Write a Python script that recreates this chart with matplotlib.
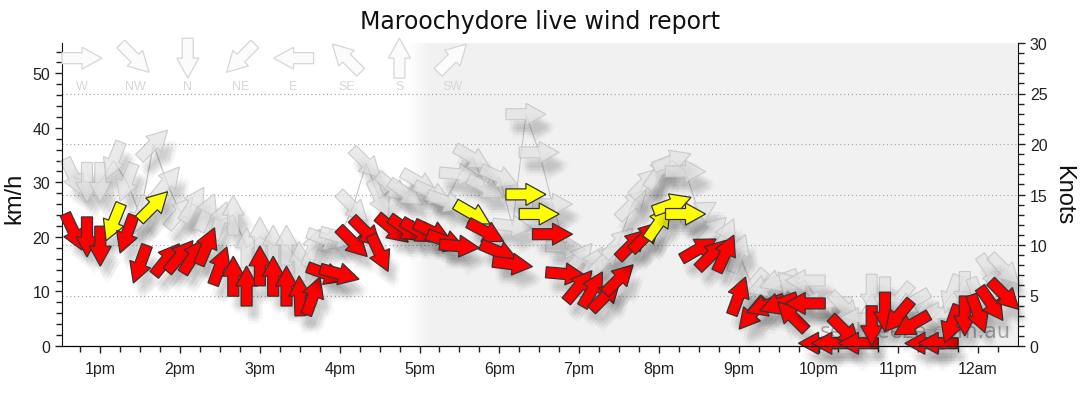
import matplotlib
matplotlib.use("Agg")
import matplotlib.pyplot as plt
import matplotlib.patheffects as pe
from matplotlib.patches import Polygon
from matplotlib.transforms import Affine2D, ScaledTranslation
import numpy as np

plt.rcParams['font.family'] = ['Liberation Sans', 'DejaVu Sans']

# one reading every 10 minutes, 12:40pm .. 12:20am (minutes after noon)
minutes = list(range(40, 750, 10))

# average wind, km/h
mean_kmh = [20.9, 20.0, 18.3, 22.7, 20.5, 15.0, 25.7, 15.9, 16.5, 16.5,
            18.3, 14.7, 12.8, 11.0, 14.7, 12.8, 11.0, 9.2, 9.2, 13.2,
            13.2, 19.0, 20.8, 17.0, 21.4, 21.4, 21.0, 20.9, 19.2, 18.3,
            24.2, 20.9, 17.2, 15.0, 27.8, 24.2, 20.5, 13.2, 11.0, 10.4,
            9.2, 12.3, 18.7, 20.1, 22.6, 26.0, 24.2, 17.8, 16.8, 17.0,
            9.2, 5.9, 7.4, 7.7, 5.5, 7.8, 0.5, 0.5, 2.7, 0.5,
            3.7, 6.2, 5.5, 3.9, 0.5, 0.5, 4.0, 5.5, 5.9, 7.7,
            9.3]
# wind direction (degrees, where it blows from)
wind_dir = [335, 0, 0, 22, 20, 20, 225, 219, 220, 212,
            203, 200, 180, 180, 180, 180, 180, 178, 200, 290,
            285, 315, 315, 335, 310, 305, 300, 295, 290, 275,
            300, 298, 293, 277, 270, 270, 270, 275, 220, 210,
            225, 225, 225, 225, 215, 250, 270, 240, 225, 205,
            200, 40, 70, 70, 135, 90, 90, 90, 315, 90,
            0, 0, 40, 60, 90, 90, 20, 0, 340, 325,
            315]
# gusts, km/h
gust_kmh = [31, 30, 30, 34, 30, 24, 37, 30, 24.5, 26,
            24.5, 23, 24, 18, 20, 18.5, 18.5, 15.5, 18, 19.5,
            20, 25.5, 33.5, 27, 29, 28, 30, 28, 26.5, 31.5,
            34.5, 29, 31, 22, 42.5, 35.5, 26, 18, 16, 15,
            16, 19, 26, 30, 32, 34, 32, 24.5, 21, 20,
            17, 11, 11, 12, 11, 12, 8, 8, 7, 5,
            9.5, 9, 8.5, 8, 4, 6, 9.5, 10, 9, 13.5,
            14]

hour_ticks = [13, 14, 15, 16, 17, 18, 19, 20, 21, 22, 23, 24]
hour_labels = ['1pm', '2pm', '3pm', '4pm', '5pm', '6pm', '7pm', '8pm',
               '9pm', '10pm', '11pm', '12am']
legend_dirs = ['W', 'NW', 'N', 'NE', 'E', 'SE', 'S', 'SW']
legend_deg = [270, 315, 0, 45, 90, 135, 180, 225]
knot_grid = [5, 10, 15, 20, 25]
night_start = 16.85
KMH_PER_KNOT = 1.852
YELLOW_FROM = 12 * KMH_PER_KNOT

hours = np.array(minutes) / 60 + 12

fig = plt.figure(figsize=(10.8, 4.14), dpi=100)
ax = fig.add_axes([62 / 1080, 67 / 414, 956 / 1080, 303 / 414])
ax.set_xlim(12.52, 24.5)
ax.set_ylim(0, 30 * KMH_PER_KNOT)

# evening shading with a soft edge
ax.axvspan(night_start + 0.28, 24.5, color='#f1f1f1', lw=0, zorder=0)
grad = np.linspace(0, 1, 64).reshape(1, -1)
ax.imshow(grad, extent=[night_start, night_start + 0.29, 0, 30 * KMH_PER_KNOT],
          aspect='auto', cmap=matplotlib.colors.LinearSegmentedColormap.from_list(
              'sh', ['#ffffff', '#f1f1f1']), zorder=0, interpolation='bilinear')

for k in knot_grid:
    ax.axhline(k * KMH_PER_KNOT, color='#a0a0a0', lw=0.8, ls=(0, (1, 2.5)), zorder=1)

arrow_verts = [(-20, -5.5), (0, -5.5), (0, -11), (20, 0), (0, 11), (0, 5.5), (-20, 5.5)]
# soft drop shadow: a cloud of faint offset copies
shadow_offsets = [(3, -7), (5, -9), (7, -11), (4, -11), (6, -7), (5, -13), (8, -9), (2, -9)]
shadow = [pe.SimplePatchShadow(offset=o, shadow_rgbFace='#000000', alpha=0.022)
          for o in shadow_offsets] + [pe.Normal()]


def wind_arrow(x, y, deg_from, face, edge, base, alpha=1.0, z=3, lw=0.8, fx=None):
    rot = 90 - (deg_from + 180)
    tr = Affine2D().rotate_deg(rot).scale(fig.dpi / 100) + ScaledTranslation(x, y, base)
    p = Polygon(arrow_verts, closed=True, transform=tr, facecolor=face,
                edgecolor=edge, lw=lw, alpha=alpha, zorder=z, clip_on=False)
    if fx:
        p.set_path_effects(fx)
    ax.add_patch(p)


# watermark, above the gusts but below the averages
ax.text(0.992, 0.05, 'seabreeze.com.au', transform=ax.transAxes, ha='right',
        va='center', fontsize=15, color='#9a9a9a', alpha=0.85, zorder=3,
        family=['DejaVu Sans'])

# gust line and arrows
ax.plot(hours, gust_kmh, color='#c4c4c4', lw=0.8, zorder=2)
for h, g, d in zip(hours, gust_kmh, wind_dir):
    wind_arrow(h, g, d, '#e2e2e2', '#bcbcbc', ax.transData, alpha=0.7, z=2.5, lw=0.8,
               fx=shadow)

# average arrows
for h, m, d in zip(hours, mean_kmh, wind_dir):
    col = '#ffff00' if m >= YELLOW_FROM else '#ff0000'
    wind_arrow(h, m, d, col, '#333333', ax.transData, z=4, lw=0.9, fx=shadow)

# direction key along the top
for i, (lab, deg) in enumerate(zip(legend_dirs, legend_deg)):
    xa = (20 + i * 52.9) / 956
    wind_arrow(xa, 0.950, deg, '#fbfbfb', '#d6d6d6', ax.transAxes, z=5, lw=0.9)
    ax.text(xa, 0.858, lab, transform=ax.transAxes, ha='center', va='center',
            fontsize=9, color='#d6d6d6', zorder=5)

ax.set_xticks(hour_ticks)
ax.set_xticklabels(hour_labels)
ax.set_xticks(np.arange(12.75, 24.5, 0.25), minor=True)
ax.set_yticks(range(0, 60, 10))
ax.set_yticks(range(0, 56, 2), minor=True)
ax.tick_params(which='both', direction='out', colors='#222222', labelsize=11.5, width=1)
ax.tick_params(which='major', length=5)
ax.tick_params(which='minor', length=4)
ax.tick_params(axis='x', pad=6)
ax.spines['top'].set_visible(False)
ax.spines['right'].set_visible(False)
for s in ('left', 'bottom'):
    ax.spines[s].set_color('#111111')

ax2 = ax.twinx()
ax2.set_ylim(0, 30)
ax2.set_yticks(range(0, 31, 5))
ax2.set_yticks(range(0, 31, 1), minor=True)
ax2.tick_params(which='both', direction='out', colors='#222222', labelsize=11.5, width=1)
ax2.tick_params(which='major', length=5)
ax2.tick_params(which='minor', length=4)
ax2.spines['top'].set_visible(False)
ax2.spines['left'].set_visible(False)
ax2.spines['right'].set_color('#111111')

fig.text(0.5, 1 - 22 / 414, 'Maroochydore live wind report', ha='center', va='center',
         fontsize=17, color='#111111', family=['DejaVu Sans'])
fig.text(14 / 1080, 1 - 198 / 414, 'km/h', rotation=90, ha='center', va='center',
         fontsize=17, color='#111111')
fig.text(1063 / 1080, 1 - 195 / 414, 'Knots', rotation=270, ha='center', va='center',
         fontsize=17, color='#111111')

fig.savefig('out.png', dpi=100)
